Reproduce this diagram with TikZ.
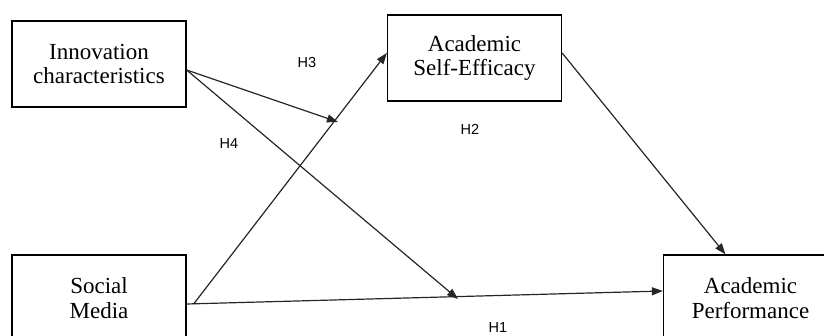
\documentclass[tikz,border=0pt]{standalone}
\usepackage{fontspec}
\setmainfont{Liberation Serif}
\newfontfamily\hypfont{Liberation Sans}
\usetikzlibrary{%
  arrows.meta,%
  calc,%
}

\begin{document}
\begin{tikzpicture}[x=1pt, y=-1pt, >={Triangle[length=11pt,width=8pt]},
    construct/.style={draw, line width=1.3pt, minimum width=174pt,
      minimum height=86pt, inner sep=0pt, align=center,
      font=\fontsize{23}{24.5}\selectfont},
    hyp/.style={font=\hypfont\fontsize{14.5}{16}\selectfont},
    link/.style={->, line width=1.2pt, draw=black!85}]

      \useasboundingbox (0, 0) rectangle (824, 336);

      \node [construct] (inno) at (99, 64) {Innovation \\ characteristics};
      \node [construct] (ase) at (474.5, 58) {Academic \\ Self-Efficacy};
      \node [construct] (sm) at (99, 298) {Social \\ Media};
      \node [construct] (ap) at (750.5, 298) {Academic \\ Performance};

      \coordinate (h3end) at (338, 122);
      \coordinate (h4end) at (458, 299);

      \draw [link] ($(inno.east)+(0,6)$) -- (h3end);
      \draw [link] ($(inno.east)+(0,6)$) -- (h4end);
      \draw [link] ($(sm.east)+(7,6)$) -- ($(ase.west)+(0,-5)$);
      \draw [link] ($(sm.east)+(0,6)$) -- ($(ap.west)+(0,-7)$);
      \draw [link] ($(ase.east)+(0,-5)$) -- ($(ap.north)+(-25,0)$);

      \node [hyp] (h3) at (307, 63) {H3};
      \node [hyp] (h4) at (229, 144) {H4};
      \node [hyp] (h2) at (470, 129) {H2};
      \node [hyp] (h1) at (498, 328) {H1};

    \end{tikzpicture}
\end{document}
